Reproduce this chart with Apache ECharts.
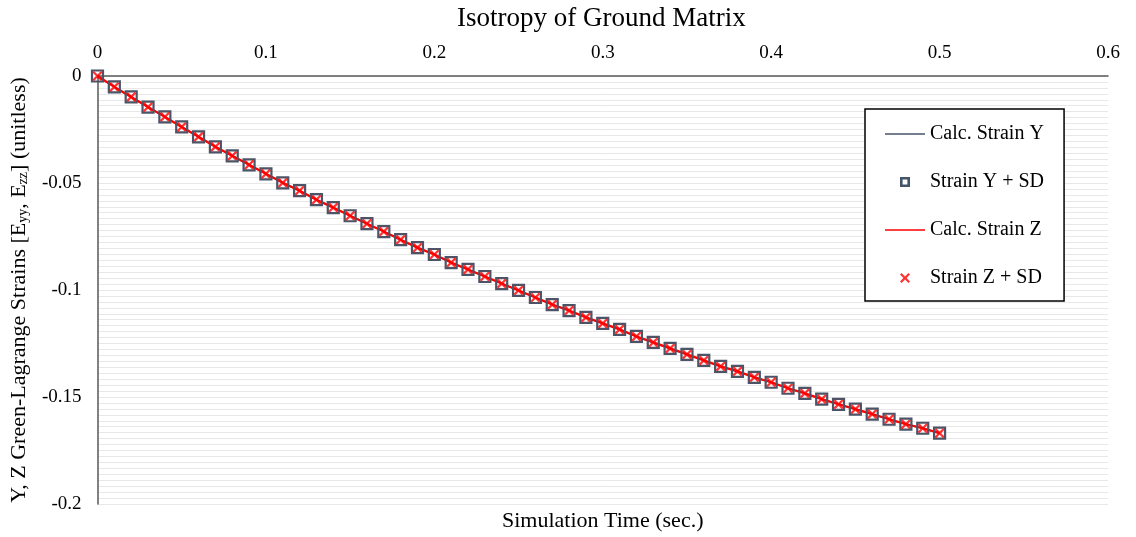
<!DOCTYPE html>
<html>
<head>
<meta charset="utf-8">
<script src="https://cdn.jsdelivr.net/npm/echarts@6/dist/echarts.min.js"></script>
<style>
  html, body { margin: 0; padding: 0; background: #fff; }
  #chart { width: 1136px; height: 537px; }
</style>
</head>
<body>
<div id="chart"></div>
<script>
// Simulation time samples (s)
const simTime = [
  0.00, 0.01, 0.02, 0.03, 0.04, 0.05, 0.06, 0.07, 0.08, 0.09,
  0.10, 0.11, 0.12, 0.13, 0.14, 0.15, 0.16, 0.17, 0.18, 0.19,
  0.20, 0.21, 0.22, 0.23, 0.24, 0.25, 0.26, 0.27, 0.28, 0.29,
  0.30, 0.31, 0.32, 0.33, 0.34, 0.35, 0.36, 0.37, 0.38, 0.39,
  0.40, 0.41, 0.42, 0.43, 0.44, 0.45, 0.46, 0.47, 0.48, 0.49, 0.50
];

// Green-Lagrange strain E_yy
const strainY = [
  0.0000, -0.0051, -0.0098, -0.0145, -0.0191, -0.0238, -0.0284, -0.0331, -0.0373, -0.0415,
  -0.0457, -0.0499, -0.0536, -0.0578, -0.0615, -0.0653, -0.0690, -0.0727, -0.0765, -0.0802,
  -0.0834, -0.0872, -0.0904, -0.0937, -0.0970, -0.1002, -0.1035, -0.1068, -0.1096, -0.1128,
  -0.1156, -0.1184, -0.1217, -0.1245, -0.1273, -0.1301, -0.1329, -0.1357, -0.1380, -0.1408,
  -0.1431, -0.1459, -0.1483, -0.1510, -0.1534, -0.1557, -0.1580, -0.1604, -0.1627, -0.1646, -0.1669
];

// Green-Lagrange strain E_zz
const strainZ = [
  0.0000, -0.0051, -0.0098, -0.0145, -0.0191, -0.0238, -0.0284, -0.0331, -0.0373, -0.0415,
  -0.0457, -0.0499, -0.0536, -0.0578, -0.0615, -0.0653, -0.0690, -0.0727, -0.0765, -0.0802,
  -0.0834, -0.0872, -0.0904, -0.0937, -0.0970, -0.1002, -0.1035, -0.1068, -0.1096, -0.1128,
  -0.1156, -0.1184, -0.1217, -0.1245, -0.1273, -0.1301, -0.1329, -0.1357, -0.1380, -0.1408,
  -0.1431, -0.1459, -0.1483, -0.1510, -0.1534, -0.1557, -0.1580, -0.1604, -0.1627, -0.1646, -0.1669
];

const seriesNames = ['Calc. Strain Y', 'Strain Y + SD', 'Calc. Strain Z', 'Strain Z + SD'];
const chartTitle = 'Isotropy of Ground Matrix';

const FONT = '"Liberation Serif", "Times New Roman", serif';
const DARK = '#44546A';
const RED = '#FF0000';
const CROSS = 'path://M0,1.6 L1.6,0 L5,3.4 L8.4,0 L10,1.6 L6.6,5 L10,8.4 L8.4,10 L5,6.6 L1.6,10 L0,8.4 L3.4,5 Z';
// legend glyphs: a thin stroke for the lines, a hollow square for the Y markers
const LINE_ICON = 'path://M0,0 H40 V1.6 H0 Z';
const SQUARE_ICON = 'path://M0,0 H10 V10 H0 Z M2.6,2.6 V7.4 H7.4 V2.6 Z';

const GRID = { left: 96, right: 28, top: 76, bottom: 32 };

const pairs = (xs, ys) => xs.map((x, i) => [x, ys[i]]);

const chart = echarts.init(document.getElementById('chart'), null, { renderer: 'canvas' });

chart.setOption({
  backgroundColor: '#ffffff',
  animation: false,
  textStyle: { fontFamily: FONT, color: '#000' },
  graphic: [
    {
      type: 'text',
      left: GRID.left + (1136 - GRID.left - GRID.right) / 2 - 145,
      top: 5,
      style: {
        text: chartTitle,
        font: '27px ' + FONT,
        fill: '#000'
      }
    }
  ],
  grid: { left: GRID.left, right: GRID.right, top: GRID.top, bottom: GRID.bottom, containLabel: false },
  legend: {
    orient: 'vertical',
    left: 865,
    top: 109,
    itemWidth: 40,
    itemHeight: 10,
    itemGap: 28,
    padding: [15, 20, 13, 20],
    backgroundColor: '#ffffff',
    borderColor: '#000000',
    borderWidth: 1.5,
    textStyle: { fontFamily: FONT, fontSize: 20, color: '#000' },
    data: [
      { name: seriesNames[0], icon: LINE_ICON, itemStyle: { color: DARK } },
      { name: seriesNames[1], icon: SQUARE_ICON, itemStyle: { color: DARK, borderWidth: 0 } },
      { name: seriesNames[2], icon: LINE_ICON, itemStyle: { color: RED } },
      { name: seriesNames[3], icon: CROSS, itemStyle: { color: RED } }
    ]
  },
  xAxis: [
    {
      type: 'value',
      position: 'top',
      min: 0,
      max: 0.6,
      interval: 0.1,
      axisLine: { show: true, onZero: false, lineStyle: { color: '#595959', width: 1.5 } },
      axisTick: { show: false },
      axisLabel: { fontFamily: FONT, fontSize: 19, color: '#000', margin: 13 },
      splitLine: { show: false }
    },
    {
      type: 'value',
      position: 'bottom',
      min: 0,
      max: 0.6,
      name: 'Simulation Time (sec.)',
      nameLocation: 'middle',
      nameGap: 6,
      nameTextStyle: { fontFamily: FONT, fontSize: 22, color: '#000', verticalAlign: 'top' },
      axisLine: { show: false },
      axisTick: { show: false },
      axisLabel: { show: false },
      splitLine: { show: false }
    }
  ],
  yAxis: {
    type: 'value',
    min: -0.2,
    max: 0,
    interval: 0.05,
    name: '{n|Y, Z Green-Lagrange Strains [E}{s|yy}{n|, E}{s|zz}{n|] (unitless)}',
    nameLocation: 'middle',
    nameRotate: 90,
    nameGap: 67,
    nameTextStyle: {
      rich: {
        n: { fontFamily: FONT, fontSize: 22, color: '#000' },
        s: { fontFamily: FONT, fontSize: 14, color: '#000', verticalAlign: 'bottom', padding: [9, 0, 0, 0] }
      }
    },
    axisLine: { show: true, onZero: false, lineStyle: { color: '#595959', width: 1.5 } },
    axisTick: { show: false },
    axisLabel: { fontFamily: FONT, fontSize: 19, color: '#000', margin: 16 },
    splitLine: { show: true, lineStyle: { color: '#E8E8E8', width: 1 } },
    minorTick: { show: false, splitNumber: 18 },
    minorSplitLine: { show: true, lineStyle: { color: '#E8E8E8', width: 1 } }
  },
  series: [
    {
      name: seriesNames[0],
      type: 'line',
      data: pairs(simTime, strainY),
      symbol: 'none',
      lineStyle: { color: DARK, width: 1.5 },
      itemStyle: { color: DARK },
      z: 2
    },
    {
      name: seriesNames[2],
      type: 'line',
      data: pairs(simTime, strainZ),
      symbol: 'none',
      lineStyle: { color: RED, width: 2.25 },
      itemStyle: { color: RED },
      z: 3
    },
    {
      name: seriesNames[1],
      type: 'scatter',
      data: pairs(simTime, strainY),
      symbol: 'rect',
      symbolSize: 11,
      itemStyle: { color: 'rgba(255,255,255,0)', borderColor: '#4B5567', borderWidth: 2.2, opacity: 1 },
      z: 4
    },
    {
      name: seriesNames[3],
      type: 'scatter',
      data: pairs(simTime, strainZ),
      symbol: CROSS,
      symbolSize: 10,
      itemStyle: { color: RED },
      z: 5
    }
  ]
});
</script>
</body>
</html>
